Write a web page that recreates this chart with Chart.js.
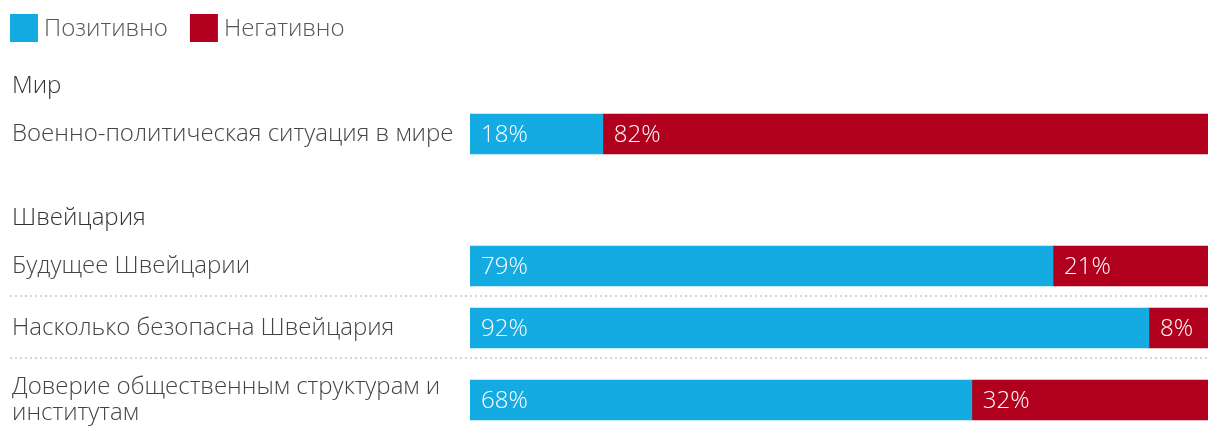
<!DOCTYPE html>
<html>
<head>
<meta charset="utf-8">
<script src="https://cdn.jsdelivr.net/npm/chart.js@4"></script>
<style>
  html, body { margin: 0; padding: 0; background: #fff; }
  #wrap { width: 1220px; height: 440px; }
</style>
</head>
<body>
<div id="wrap"><canvas id="chart" width="1220" height="440"></canvas></div>
<script>
// data
const legendLabels = ["Позитивно", "Негативно"];
const sections = ["Мир", "Швейцария"];
const categories = [
  ["Военно-политическая ситуация в мире"],
  ["Будущее Швейцарии"],
  ["Насколько безопасна Швейцария"],
  ["Доверие общественным структурам и", "институтам"]
];
const categorySection = [0, 1, 1, 1];
const positive = [18, 79, 92, 68];
const negative = [82, 21, 8, 32];

const colors = ["#14aae2", "#b0001e"];
const labelFont = "300 24px 'Open Sans', sans-serif";
const valueFont = "300 24px 'Open Sans', sans-serif";

// row layout (height units = px on the hidden y scale)
const TOP = 69, HEADER_H = 34, ROW_H = 62, LINE_H = 20, SECTION_GAP = 36;
const headerPos = [], rowPos = [], rowTop = [];
let cursor = TOP;
categories.forEach((lines, i) => {
  const s = categorySection[i];
  if (i === 0 || s !== categorySection[i - 1]) {
    if (i > 0) cursor += SECTION_GAP;
    headerPos[s] = cursor + HEADER_H / 2;
    cursor += HEADER_H;
  }
  const h = ROW_H + (lines.length - 1) * LINE_H;
  rowTop[i] = cursor;
  rowPos[i] = cursor + h / 2;
  cursor += h;
});

const textPlugin = {
  id: "texts",
  beforeDatasetsDraw(chart) {
    const ctx = chart.ctx, y = chart.scales.y;
    ctx.save();
    ctx.strokeStyle = "#d4d4d4";
    ctx.lineWidth = 2;
    ctx.setLineDash([2, 3]);
    categories.forEach((c, i) => {
      if (i > 0 && categorySection[i] === categorySection[i - 1]) {
        const py = Math.round(y.getPixelForValue(rowTop[i])) - 1;
        ctx.beginPath();
        ctx.moveTo(10, py);
        ctx.lineTo(chart.chartArea.right, py);
        ctx.stroke();
      }
    });
    ctx.restore();
  },
  afterDatasetsDraw(chart) {
    const ctx = chart.ctx, y = chart.scales.y;
    ctx.save();
    ctx.textBaseline = "middle";
    // legend
    ctx.font = labelFont;
    let lx = 10;
    legendLabels.forEach((t, i) => {
      ctx.fillStyle = colors[i];
      ctx.fillRect(lx, 14, 28, 28);
      ctx.fillStyle = "#555";
      ctx.fillText(t, lx + 34, 29);
      lx += 34 + ctx.measureText(t).width + 22;
    });
    // section headers
    ctx.fillStyle = "#333";
    sections.forEach((s, i) => ctx.fillText(s, 12, y.getPixelForValue(headerPos[i])));
    // category labels
    ctx.fillStyle = "#444";
    categories.forEach((lines, i) => {
      const cy = y.getPixelForValue(rowPos[i]);
      lines.forEach((l, j) => {
        ctx.fillText(l, 12, cy + (j - (lines.length - 1) / 2) * 26);
      });
    });
    // values inside bars
    ctx.font = valueFont;
    ctx.fillStyle = "#fff";
    chart.data.datasets.forEach((ds, di) => {
      chart.getDatasetMeta(di).data.forEach((bar, i) => {
        const left = Math.min(bar.x, bar.base);
        ctx.fillText(ds.data[i].x + "%", left + 11, bar.y + 1);
      });
    });
    ctx.restore();
  }
};

new Chart(document.getElementById("chart"), {
  type: "bar",
  data: {
    datasets: [
      { label: legendLabels[0], data: positive.map((v, i) => ({ x: v, y: rowPos[i] })), backgroundColor: colors[0] },
      { label: legendLabels[1], data: negative.map((v, i) => ({ x: v, y: rowPos[i] })), backgroundColor: colors[1] }
    ]
  },
  options: {
    indexAxis: "y",
    responsive: false,
    animation: false,
    barThickness: 40,
    layout: { padding: { left: 470, right: 12, top: 0, bottom: 0 } },
    plugins: { legend: { display: false }, tooltip: { enabled: false } },
    scales: {
      x: { type: "linear", stacked: true, min: 0, max: 100, display: false },
      y: { type: "linear", stacked: true, min: 0, max: 440, reverse: true, offset: false, display: false }
    }
  },
  plugins: [textPlugin]
});
</script>
</body>
</html>
